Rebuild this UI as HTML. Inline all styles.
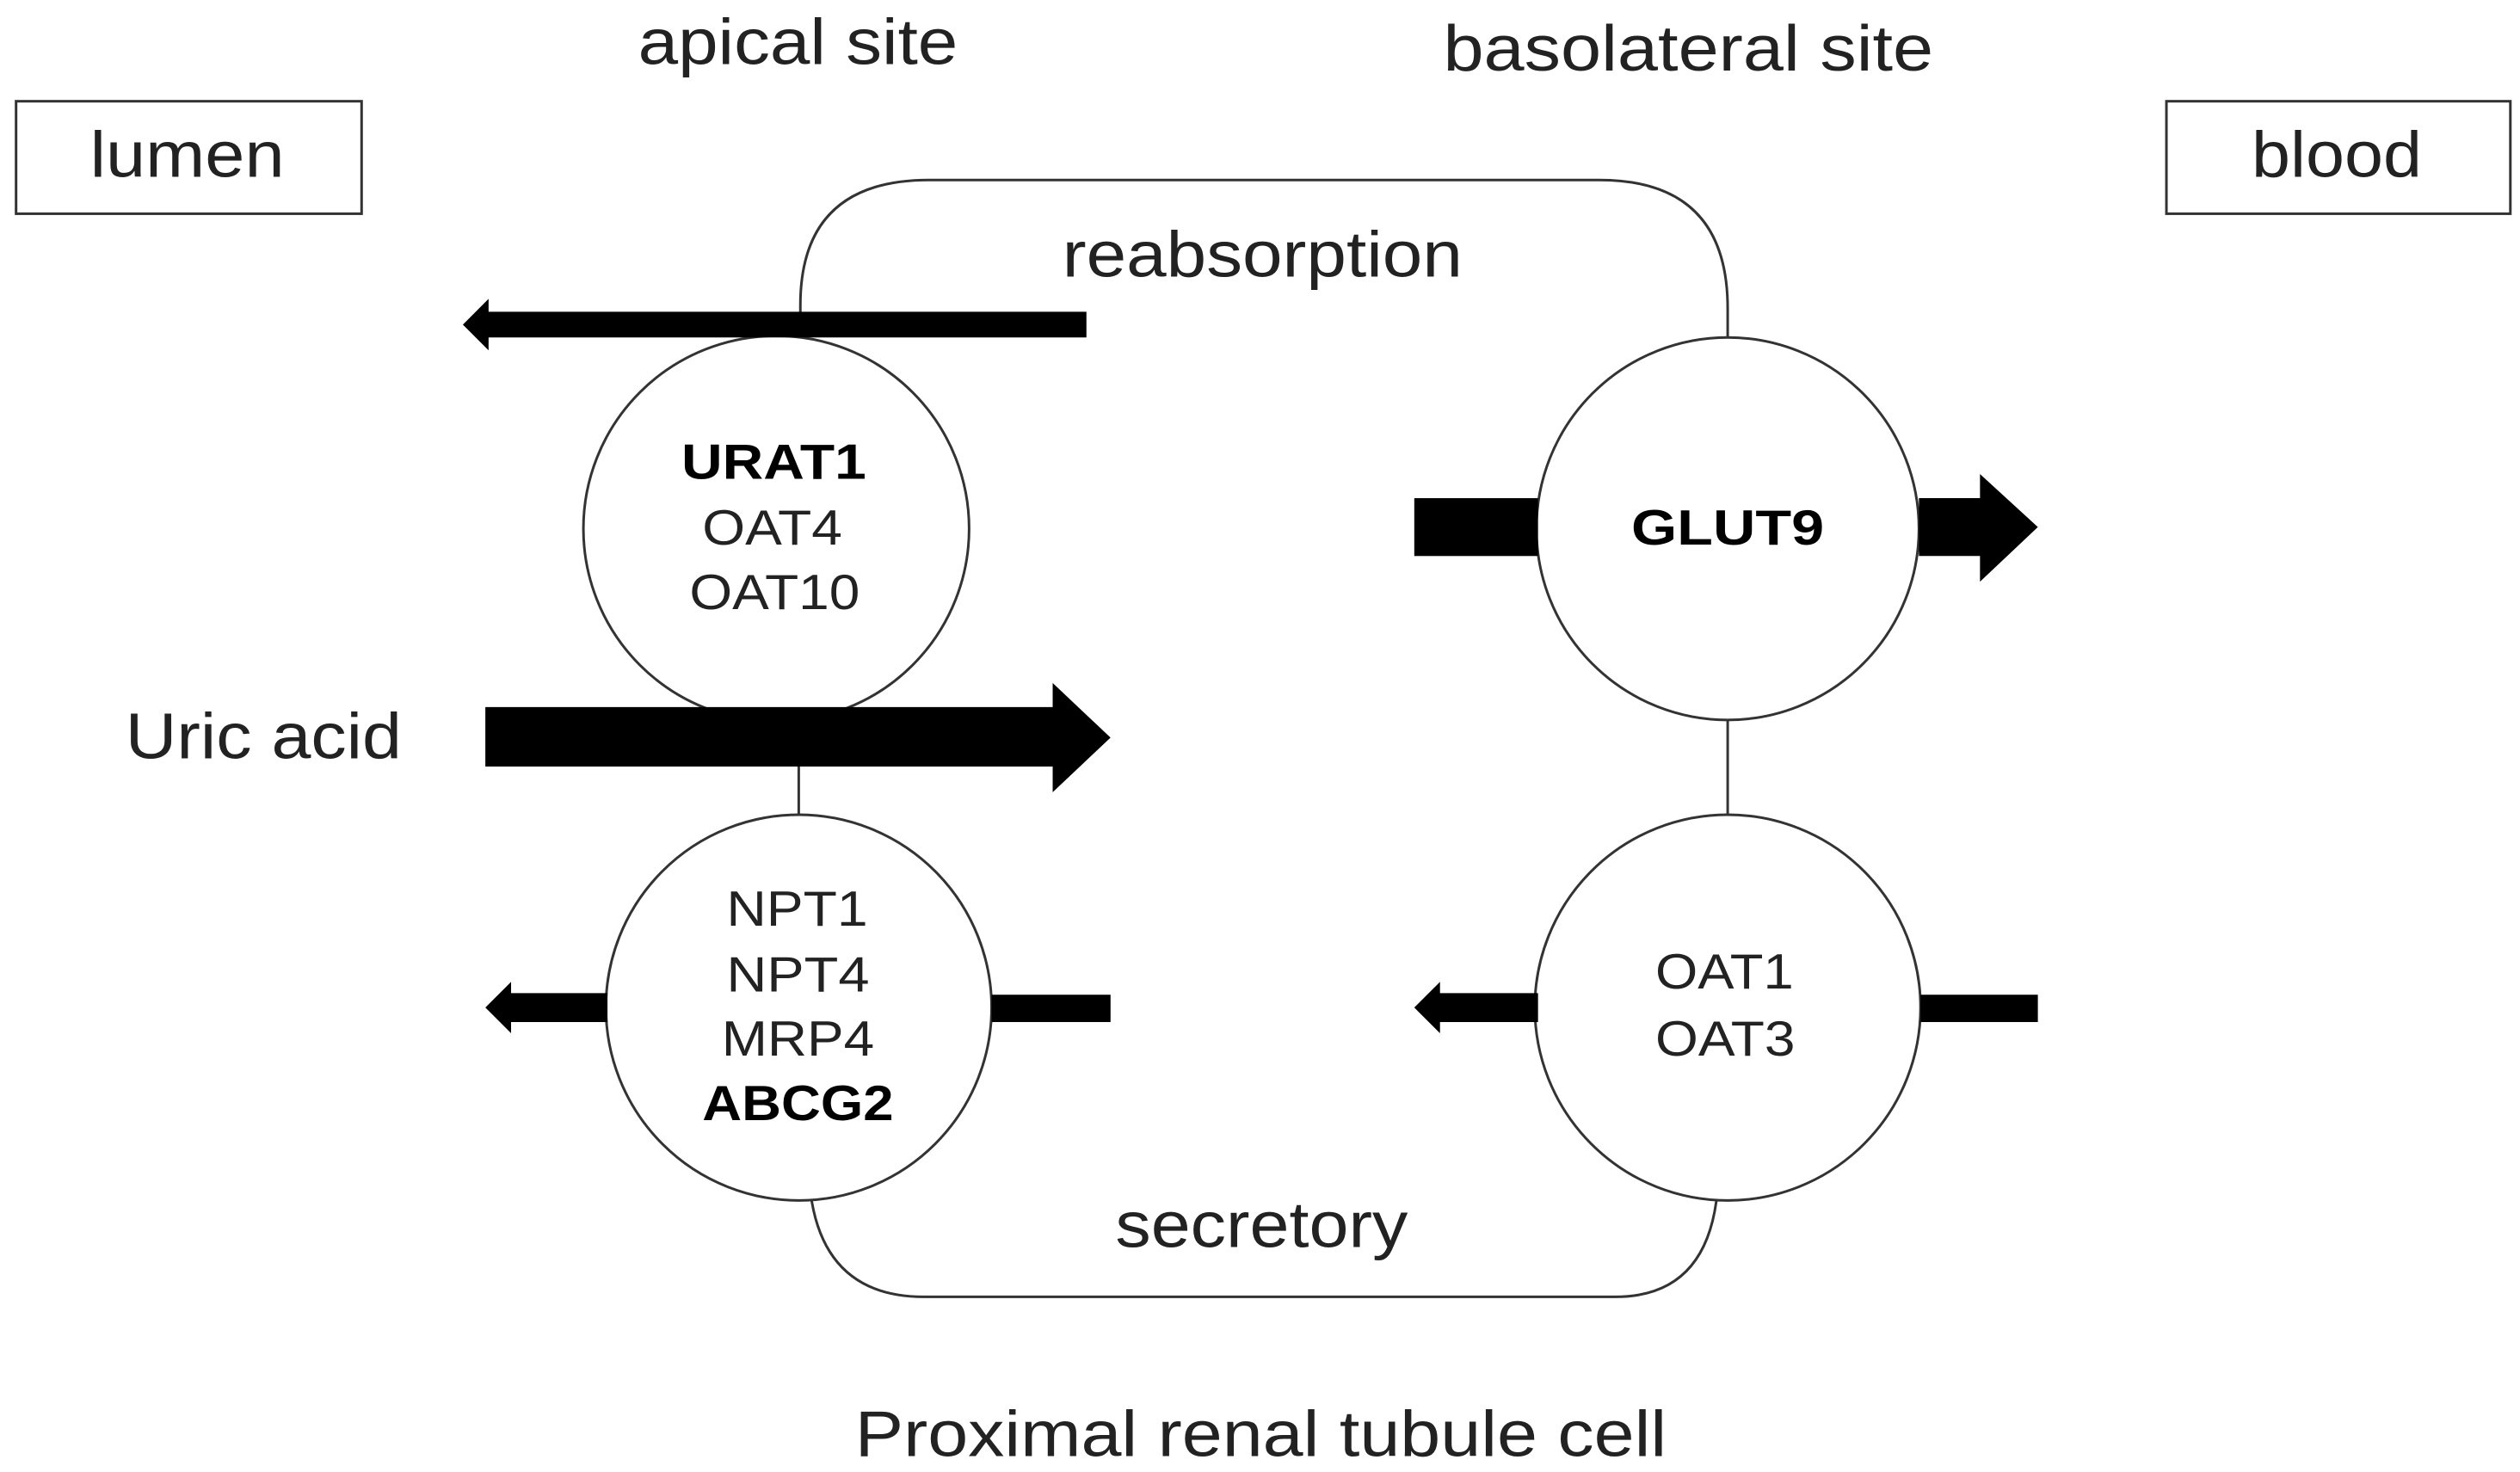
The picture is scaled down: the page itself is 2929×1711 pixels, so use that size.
<!DOCTYPE html>
<html><head><meta charset="utf-8"><style>html,body{margin:0;padding:0;background:#fff}svg{display:block}</style></head>
<body>
<svg width="2929" height="1711" viewBox="0 0 1568 916" preserveAspectRatio="none" xmlns="http://www.w3.org/2000/svg" font-family="Liberation Sans, sans-serif" fill="#222">
<rect width="1568" height="916" fill="#fff"/>
<g fill="none" stroke="#333" stroke-width="1.6">
<rect x="10" y="63" width="215" height="70"/>
<rect x="1348" y="63" width="214" height="70"/>
<path d="M498 195 L498 190 Q498 112 578 112 L995 112 Q1075 112 1075 192 L1075 210"/>
<path d="M505 747 Q515 807 575 807 L1005 807 Q1060 807 1068 747"/>
<line x1="497" y1="448" x2="497" y2="508"/>
<line x1="1075" y1="448" x2="1075" y2="508"/>
<circle cx="483" cy="329" r="120" fill="#fff"/>
<circle cx="497" cy="627" r="120" fill="#fff"/>
<circle cx="1075" cy="329" r="119" fill="#fff"/>
<circle cx="1075" cy="627" r="120" fill="#fff"/>
</g>
<g fill="#000">
<polygon points="676,194 676,210 304,210 304,218 288,202 304,186 304,194"/>
<polygon points="302,440 655,440 655,425 691,459 655,493 655,477 302,477"/>
<polygon points="378,618 378,636 318,636 318,643 302,627 318,611 318,618"/>
<rect x="617" y="619" width="74" height="17"/>
<rect x="880" y="310" width="77" height="36"/>
<polygon points="1194,310 1232,310 1232,295 1268,328 1232,362 1232,346 1194,346"/>
<polygon points="957,618 957,636 896,636 896,643 880,627 896,611 896,618"/>
<rect x="1195" y="619" width="73" height="17"/>
</g>
<g font-size="40" lengthAdjust="spacingAndGlyphs">
<text x="397" y="40" textLength="199" lengthAdjust="spacingAndGlyphs">apical site</text>
<text x="898" y="44" textLength="305" lengthAdjust="spacingAndGlyphs">basolateral site</text>
<text x="56" y="110" textLength="121" lengthAdjust="spacingAndGlyphs">lumen</text>
<text x="1401" y="110" textLength="106" lengthAdjust="spacingAndGlyphs">blood</text>
<text x="661" y="172" textLength="249" lengthAdjust="spacingAndGlyphs">reabsorption</text>
<text x="78" y="472" textLength="172" lengthAdjust="spacingAndGlyphs">Uric acid</text>
<text x="694" y="776" textLength="182" lengthAdjust="spacingAndGlyphs">secretory</text>
<text x="532" y="906" textLength="505" lengthAdjust="spacingAndGlyphs">Proximal renal tubule cell</text>
</g>
<g font-size="31">
<text x="424" y="298" textLength="115" lengthAdjust="spacingAndGlyphs" font-weight="bold" fill="#000">URAT1</text>
<text x="437" y="339" textLength="87" lengthAdjust="spacingAndGlyphs">OAT4</text>
<text x="429" y="379" textLength="106" lengthAdjust="spacingAndGlyphs">OAT10</text>
<text x="1015" y="339" textLength="120" lengthAdjust="spacingAndGlyphs" font-weight="bold" fill="#000">GLUT9</text>
<text x="452" y="576" textLength="88" lengthAdjust="spacingAndGlyphs">NPT1</text>
<text x="452" y="617" textLength="89" lengthAdjust="spacingAndGlyphs">NPT4</text>
<text x="449" y="657" textLength="95" lengthAdjust="spacingAndGlyphs">MRP4</text>
<text x="437" y="697" textLength="119" lengthAdjust="spacingAndGlyphs" font-weight="bold" fill="#000">ABCG2</text>
<text x="1030" y="615" textLength="86" lengthAdjust="spacingAndGlyphs">OAT1</text>
<text x="1030" y="657" textLength="87" lengthAdjust="spacingAndGlyphs">OAT3</text>
</g>
</svg>
</body></html>
